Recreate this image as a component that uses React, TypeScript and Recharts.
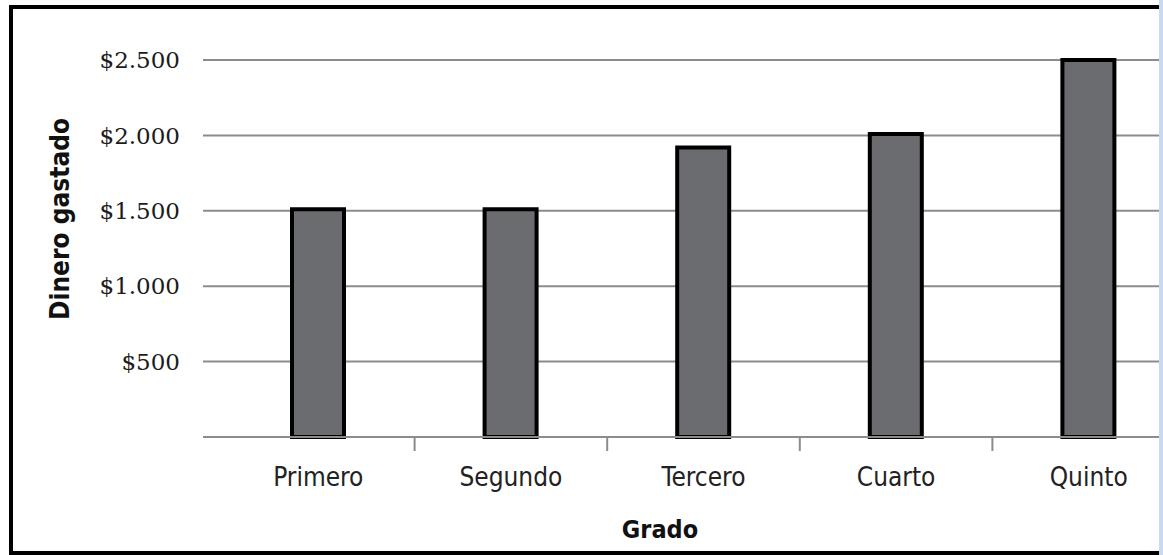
import { Bar, BarChart, CartesianGrid, XAxis, YAxis } from "recharts";

const grades = ["Primero", "Segundo", "Tercero", "Cuarto", "Quinto"];
const spent = [1510, 1510, 1920, 2010, 2500];
const yTicks = [0, 500, 1000, 1500, 2000, 2500];
const yTickLabels = ["", "$500", "$1.000", "$1.500", "$2.000", "$2.500"];

const data = grades.map((grado, i) => ({ grado, dinero: spent[i] }));

const CHART_W = 1190;
const CHART_H = 555;
const PLOT_LEFT = 203;
const PAD_LEFT = 19;
const PLOT_RIGHT = 5;
const STEP = (CHART_W - PLOT_LEFT - PAD_LEFT - PLOT_RIGHT) / grades.length;

const GRID = "#8c8c8c";
const SANS = "'DejaVu Sans Condensed', 'DejaVu Sans', sans-serif";

function GradeTick(props: any) {
  const { x, y, payload, index } = props;
  return (
    <g>
      {index > 0 && (
        <line
          x1={x - STEP / 2}
          x2={x - STEP / 2}
          y1={y}
          y2={y + 14}
          stroke={GRID}
          strokeWidth={2}
        />
      )}
      <text
        x={x}
        y={y + 31}
        dy="0.71em"
        textAnchor="middle"
        fontFamily={SANS}
        fontSize={26}
        fill="#222"
      >
        {payload.value}
      </text>
    </g>
  );
}

function YLabel() {
  return (
    <text
      x={60}
      y={219}
      transform="rotate(-90 60 219)"
      textAnchor="middle"
      dominantBaseline="central"
      fontFamily={SANS}
      fontWeight="bold"
      fontSize={26}
      fill="#111"
    >
      Dinero gastado
    </text>
  );
}

export default function App() {
  return (
    <>
      <div
        style={{
          position: "absolute",
          left: 0,
          top: 0,
          width: 1159,
          height: CHART_H,
          overflow: "hidden",
          background: "#fff",
        }}
      >
        <BarChart
          width={CHART_W}
          height={CHART_H}
          data={data}
          margin={{ top: 60, right: PLOT_RIGHT, left: 0, bottom: 0 }}
        >
          <CartesianGrid vertical={false} stroke={GRID} strokeWidth={2} />
          <XAxis
            dataKey="grado"
            height={118}
            padding={{ left: PAD_LEFT, right: 0 }}
            axisLine={{ stroke: GRID, strokeWidth: 2 }}
            tickLine={false}
            tickSize={0}
            tickMargin={0}
            tick={<GradeTick />}
            interval={0}
            label={{
              value: "Grado",
              position: "insideBottom",
              offset: 17,
              dx: -34,
              fontFamily: SANS,
              fontWeight: "bold",
              fontSize: 25,
              fill: "#111",
            }}
          />
          <YAxis
            width={PLOT_LEFT}
            domain={[0, 2500]}
            ticks={yTicks}
            interval={0}
            axisLine={false}
            tickLine={false}
            tickSize={0}
            tickMargin={23}
            tickFormatter={(v: number) => yTickLabels[yTicks.indexOf(v)] ?? ""}
            tick={{
              fontFamily: "'DejaVu Serif', serif",
              fontSize: 23,
              fill: "#1c1c1c",
            }}
            label={<YLabel />}
          />
          <Bar
            dataKey="dinero"
            barSize={52}
            fill="#6b6c70"
            stroke="#000"
            strokeWidth={4}
            isAnimationActive={false}
          />
        </BarChart>
      </div>
      <div
        style={{
          position: "absolute",
          left: 9,
          top: 5,
          width: 1150,
          height: 550,
          boxSizing: "border-box",
          borderTop: "4px solid #000",
          borderLeft: "4px solid #000",
          borderBottom: "4px solid #000",
          pointerEvents: "none",
        }}
      />
      <div
        style={{
          position: "absolute",
          left: 1159,
          top: 0,
          width: 4,
          height: CHART_H,
          background: "#c9daf0",
        }}
      />
    </>
  );
}
